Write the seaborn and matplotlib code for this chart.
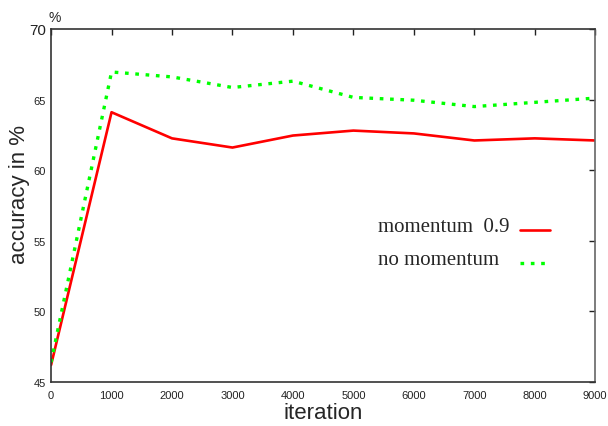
import numpy as np
import pandas as pd
import seaborn as sns
import matplotlib
matplotlib.use('Agg')
import matplotlib.pyplot as plt

# values
iterations = [0, 1000, 2000, 3000, 4000, 5000, 6000, 7000, 8000, 9000]
momentum_09 = [46.2, 64.1, 62.25, 61.6, 62.45, 62.8, 62.6, 62.1, 62.25, 62.1]
no_momentum = [46.4, 66.95, 66.6, 65.85, 66.3, 65.15, 64.95, 64.5, 64.8, 65.1]
labels = ['momentum  0.9', 'no momentum']

RED = '#ff0000'
GREEN = '#00ff00'
DOTS = (1.1, 2.0)

sns.set_style('white')
plt.rcParams['font.family'] = ['Liberation Sans', 'DejaVu Sans']

fig = plt.figure(figsize=(6.08, 4.27), dpi=100)
ax = fig.add_axes([0.084, 0.103, 0.895, 0.827])

df = pd.DataFrame({'iteration': iterations, 'm': momentum_09, 'n': no_momentum})

sns.lineplot(data=df, x='iteration', y='m', ax=ax, color=RED, linewidth=1.9)
sns.lineplot(data=df, x='iteration', y='n', ax=ax, color=GREEN, linewidth=2.4)
ax.lines[-1].set_dashes(DOTS)

ax.set_xlim(0, 9000)
ax.set_ylim(45, 70)
ax.set_xticks(np.arange(0, 9001, 1000))
ax.set_yticks(np.arange(45, 71, 5))
ax.tick_params(direction='in', top=True, right=True, length=4, width=1,
               labelsize=8, colors='#222222')
ax.tick_params(axis='x', pad=6)
for lab in ax.get_yticklabels():
    if lab.get_text() == '70':
        lab.set_fontsize(11)

for sp in ax.spines.values():
    sp.set_color('#333333')
    sp.set_linewidth(1.2)
ax.spines['right'].set_color('#666666')

ax.set_xlabel('iteration', fontsize=16, labelpad=1)
ax.set_ylabel('accuracy in %', fontsize=16)
ax.yaxis.set_label_coords(-0.039, 0.535)
ax.text(-0.005, 1.015, '%', transform=ax.transAxes, fontsize=10, ha='left', va='bottom')

# key, gnuplot style: left-aligned text, then the line sample
key_rows = [(0.44, RED, 1.9, None), (0.347, GREEN, 2.4, DOTS)]
for label, (yk, col, lw, dash) in zip(labels, key_rows):
    ax.text(0.601, yk, label, transform=ax.transAxes, fontsize=15,
            family='Liberation Serif', va='center', ha='left')
    ln, = ax.plot([0.862, 0.917], [yk - 0.01, yk - 0.01], transform=ax.transAxes,
                  color=col, linewidth=lw)
    if dash:
        ln.set_dashes(dash)

fig.savefig('out.png', dpi=100)
